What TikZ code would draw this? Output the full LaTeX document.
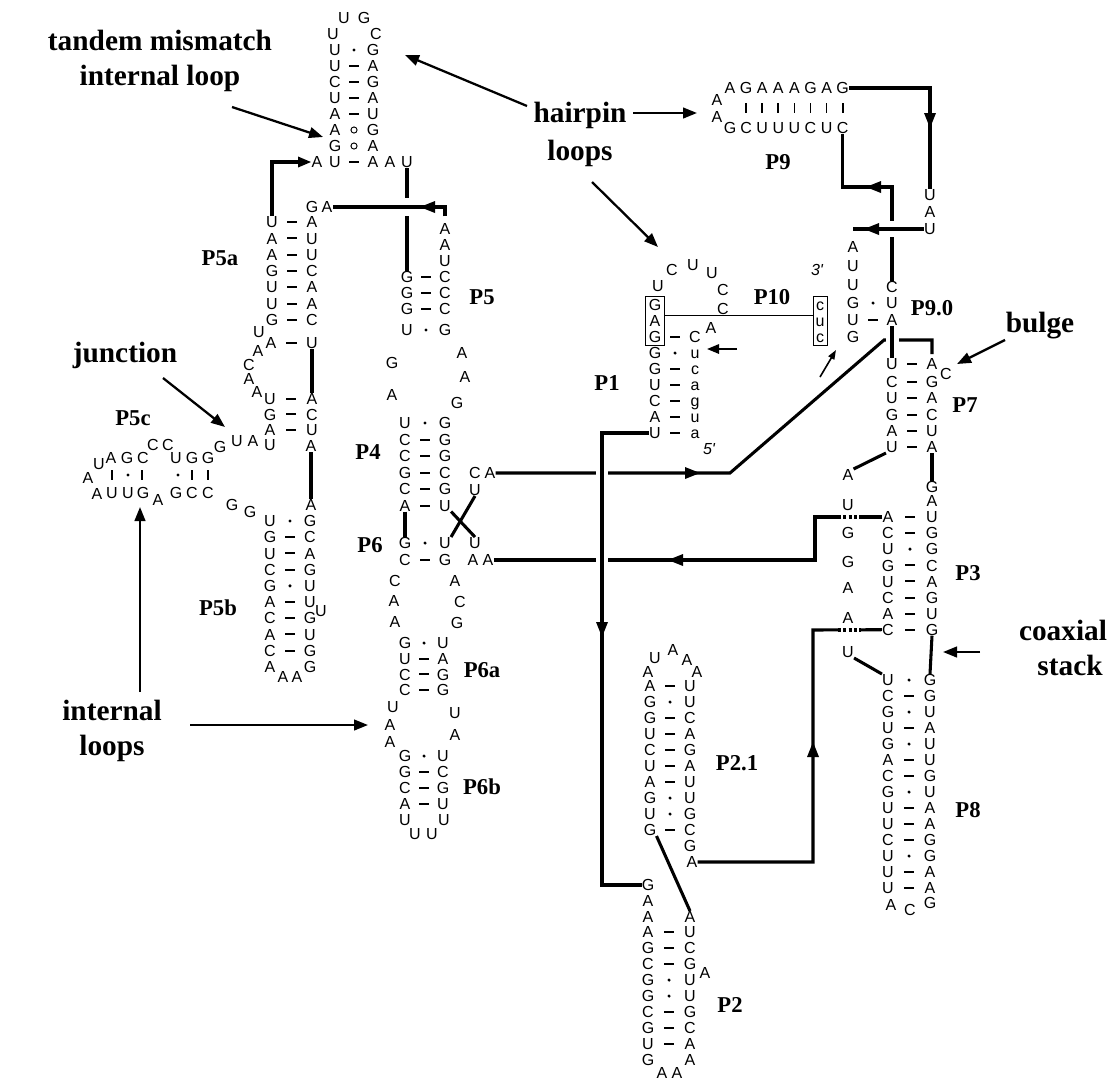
\documentclass[tikz,border=0pt]{standalone}
\usepackage{fontspec}
\setmainfont{Liberation Serif}
\newfontfamily\ntf{Liberation Sans}
\usetikzlibrary{arrows.meta,fit}
\newcommand\ah[3]{\fill[shift={(#1,#2)},rotate=#3] (0,0) -- (-15,-6) -- (-15,6) -- cycle;}
\newcommand\stem[6]{%
  \foreach \l/\m/\r [count=\i] in {#6} {%
    \node[nt] (#1l\i) at (#2,{#4+#5*(\i-1)}) {\l};
    \node[\m] (#1m\i) at ({(#2+#3)/2},{#4+#5*(\i-1)}) {};
    \node[nt] (#1r\i) at (#3,{#4+#5*(\i-1)}) {\r};
  }}
\newcommand\bridge[4]{\draw[white,line width=5pt] (#1,#2) -- (#3,#4);}
\begin{document}
\begin{tikzpicture}[x=0.75pt,y=-0.75pt,
  nt/.style={font=\ntf\fontsize{12}{12}\selectfont,inner sep=0pt,text height=8.6pt,text depth=0pt},
  it/.style={font=\ntf\itshape\fontsize{12}{12}\selectfont,inner sep=0pt},
  bpm/.style={fill=black,inner sep=0pt,minimum width=8pt,minimum height=1.5pt},
  gum/.style={circle,fill=black,inner sep=0pt,minimum size=2.6pt},
  ncm/.style={circle,draw=black,line width=0.7pt,inner sep=0pt,minimum size=4.6pt},
  nom/.style={inner sep=0pt,minimum size=0pt},
  bar/.style={fill=black,inner sep=0pt,minimum width=1.3pt,minimum height=7.5pt},
  lab/.style={font=\bfseries\fontsize{17}{17}\selectfont,inner sep=0pt},
  big/.style={font=\bfseries\fontsize{22}{22}\selectfont,inner sep=0pt,anchor=base},
  conn/.style={line width=2.3pt},
  ann/.style={line width=1.7pt,-{Triangle[length=10.5pt,width=8pt]}},
  dots/.style={line width=2.3pt,dash pattern=on 2.2pt off 1.8pt},
]
\fill[white] (0,0) rectangle (1120,1082);
\useasboundingbox (0,0) rectangle (1120,1082);

% ---------- annotation texts
\node[big] (tTM) at (160,50) {tandem mismatch};
\node[big] (tIL) at (160,85) {internal loop};
\node[big] (tHP) at (580,122) {hairpin};
\node[big] (tLP) at (580,160) {loops};
\node[big] (tJN) at (125,362) {junction};
\node[big] (tIN) at (112,720) {internal};
\node[big] (tIS) at (112,755) {loops};
\node[big] (tBU) at (1040,332) {bulge};
\node[big] (tCO) at (1063,640) {coaxial};
\node[big] (tST) at (1070,675) {stack};

\coordinate (an1a) at (232,107); \coordinate (an1b) at (323,137);
\coordinate (an2a) at (527,106); \coordinate (an2b) at (405,55);
\coordinate (an3a) at (633,113); \coordinate (an3b) at (697,113);
\coordinate (an4a) at (592,182); \coordinate (an4b) at (658,247);
\coordinate (an5a) at (163,378); \coordinate (an5b) at (225,427);
\coordinate (an6a) at (140,692); \coordinate (an6b) at (140,507);
\coordinate (an7a) at (190,725); \coordinate (an7b) at (368,725);
\coordinate (an8a) at (1005,340); \coordinate (an8b) at (957,364);
\coordinate (an9a) at (980,652); \coordinate (an9b) at (943,652);
\foreach \k in {1,...,9} \draw[ann] (an\k a) -- (an\k b);

% ---------- structure labels
\node[lab] (lP5a) at (220,258) {P5a};
\node[lab] (lP5) at (482,297) {P5};
\node[lab] (lP5c) at (133,418) {P5c};
\node[lab] (lP4) at (368,452) {P4};
\node[lab] (lP6) at (370,545) {P6};
\node[lab] (lP5b) at (218,608) {P5b};
\node[lab] (lP6a) at (482,670) {P6a};
\node[lab] (lP6b) at (482,787) {P6b};
\node[lab] (lP9) at (778,162) {P9};
\node[lab] (lP10) at (772,297) {P10};
\node[lab] (lP90) at (932,308) {P9.0};
\node[lab] (lP1) at (607,383) {P1};
\node[lab] (lP7) at (965,405) {P7};
\node[lab] (lP3) at (968,573) {P3};
\node[lab] (lP8) at (968,810) {P8};
\node[lab] (lP21) at (737,763) {P2.1};
\node[lab] (lP2) at (730,1005) {P2};

% ---------- top hairpin
\stem{h}{335}{373}{50}{16}{U/gum/G,U/bpm/A,C/bpm/G,U/bpm/A,A/bpm/U,A/ncm/G,G/ncm/A,U/bpm/A}
\node[nt] (hA0) at (317,162) {A};
\node[nt] (hA9) at (390,162) {A};
\node[nt] (hU9) at (407,162) {U};
\node[nt] (hq1) at (333,34) {U};
\node[nt] (hq2) at (344,18) {U};
\node[nt] (hq3) at (364,18) {G};
\node[nt] (hq4) at (376,34) {C};

% ---------- P5a
\node[nt] (gaG) at (312,207) {G};
\node[nt] (gaA) at (327,207) {A};
\stem{a}{272}{312}{222}{16.3}{U/bpm/A,A/bpm/U,A/bpm/U,G/bpm/C,U/bpm/A,U/bpm/A,G/bpm/C}
\node[nt] (aU8) at (259,332) {U};
\stem{ab}{271}{312}{343}{1}{A/bpm/U}
\node[nt] (aq1) at (258,351) {A};
\node[nt] (aq2) at (249,364.5) {C};
\node[nt] (aq3) at (249,378.5) {A};
\node[nt] (aq4) at (257,392) {A};
\stem{ai}{270}{312}{399}{15.3}{U/bpm/A,G/bpm/C,A/bpm/U}
\node[nt] (aiU) at (270,445) {U};
\node[nt] (aiA) at (311,446) {A};
\node[nt] (jA) at (253,441) {A};
\node[nt] (jU) at (237,441) {U};
\node[nt] (jG) at (220,447) {G};

% ---------- P5c
\node[nt] (cU) at (99,464) {U};
\node[nt] (cA1) at (111,458) {A};
\node[nt] (cG1) at (127,458) {G};
\node[nt] (cC1) at (143,458) {C};
\node[nt] (cC2) at (153,445) {C};
\node[nt] (cC3) at (168,445) {C};
\node[nt] (cU2) at (176,458) {U};
\node[nt] (cG2) at (192,458) {G};
\node[nt] (cG3) at (208,458) {G};
\node[bar] (cm1) at (112,475) {};
\node[gum] (cm2) at (128,475) {};
\node[bar] (cm3) at (142,475) {};
\node[gum] (cm4) at (178,475) {};
\node[bar] (cm5) at (192,475) {};
\node[bar] (cm6) at (208,475) {};
\node[nt] (cA2) at (88,478) {A};
\node[nt] (cA3) at (97,494) {A};
\node[nt] (cb1) at (112,493) {U};
\node[nt] (cb2) at (128,493) {U};
\node[nt] (cb3) at (143,493) {G};
\node[nt] (cb4) at (158,500) {A};
\node[nt] (cb5) at (176,493) {G};
\node[nt] (cb6) at (192,493) {C};
\node[nt] (cb7) at (208,493) {C};
\node[nt] (cb8) at (232,505) {G};
\node[nt] (cb9) at (250,512) {G};

% ---------- P5b
\node[nt] (bA0) at (311,505) {A};
\stem{b}{270}{310}{521}{16.2}{U/gum/G,G/bpm/C,U/bpm/A,C/bpm/G,G/gum/U,A/bpm/U,C/bpm/G,A/bpm/U,C/bpm/G}
\node[nt] (bUx) at (321,611) {U};
\node[nt] (bq1) at (270,667) {A};
\node[nt] (bq2) at (283,677) {A};
\node[nt] (bq3) at (297,677) {A};
\node[nt] (bq4) at (310,667) {G};

% ---------- P5
\node[nt] (p5A1) at (445,229) {A};
\node[nt] (p5A2) at (445,245) {A};
\node[nt] (p5U0) at (445,261) {U};
\stem{p5}{407}{445}{277}{16}{G/bpm/C,G/bpm/C,G/bpm/C}
\stem{p5u}{407}{445}{330}{1}{U/gum/G}
\node[nt] (k5G) at (392,363) {G};
\node[nt] (k5A) at (392,395) {A};
\node[nt] (k5a1) at (462,353) {A};
\node[nt] (k5a2) at (465,377) {A};
\node[nt] (k5g) at (457,403) {G};

% ---------- P4 / P6
\stem{p4}{405}{445}{423}{16.5}{U/gum/G,C/bpm/G,C/bpm/G,G/bpm/C,C/bpm/G,A/bpm/U}
\node[nt] (caC) at (475,473) {C};
\node[nt] (caA) at (490,473) {A};
\node[nt] (xU1) at (475,490) {U};
\stem{p6}{405}{445}{543}{17}{G/gum/U,C/bpm/G}
\node[nt] (xU2) at (475,543) {U};
\node[nt] (aa1) at (473,560) {A};
\node[nt] (aa2) at (488,560) {A};
\node[nt] (k6C) at (395,581) {C};
\node[nt] (k6A) at (394,601) {A};
\node[nt] (k6B) at (395,622) {A};
\node[nt] (k6a) at (455,581) {A};
\node[nt] (k6c) at (460,602) {C};
\node[nt] (k6g) at (457,623) {G};
\stem{p6a}{405}{443}{643}{15.7}{G/gum/U,U/bpm/A,C/bpm/G,C/bpm/G}
\node[nt] (k7U) at (393,707) {U};
\node[nt] (k7A) at (390,725) {A};
\node[nt] (k7B) at (390,742) {A};
\node[nt] (k7u) at (455,713) {U};
\node[nt] (k7a) at (455,735) {A};
\stem{p6b}{405}{443}{756}{16}{G/gum/U,G/bpm/C,C/bpm/G,A/bpm/U}
\node[nt] (k8a) at (405,820) {U};
\node[nt] (k8b) at (415,834) {U};
\node[nt] (k8c) at (432,834) {U};
\node[nt] (k8d) at (444,820) {U};

% ---------- P9 hairpin
\foreach \c [count=\i] in {A,G,A,A,A,G,A,G} \node[nt] (p9t\i) at ({730+16.1*(\i-1)},88) {\c};
\foreach \c [count=\i] in {G,C,U,U,U,C,U,C} \node[nt] (p9b\i) at ({730+16.1*(\i-1)},128) {\c};
\foreach \i in {2,...,8} \node[bar] (p9m\i) at ({730+16.1*(\i-1)},108) {};
\node[nt] (p9q1) at (717,100) {A};
\node[nt] (p9q2) at (717,117) {A};
\node[nt] (uau1) at (930,195) {U};
\node[nt] (uau2) at (930,212) {A};
\node[nt] (uau3) at (930,229) {U};

% ---------- P9.0
\node[nt] (qA) at (853,247) {A};
\node[nt] (qU1) at (853,266) {U};
\node[nt] (qU2) at (853,285) {U};
\node[nt] (qG1) at (853,303) {G};
\node[nt] (qU3) at (853,320) {U};
\node[nt] (qG2) at (853,337) {G};
\node[nt] (qC) at (892,287) {C};
\node[nt] (qU4) at (892,303) {U};
\node[nt] (qA2) at (892,320) {A};
\node[gum] (qm1) at (873,303) {};
\node[bpm] (qm2) at (873,320) {};

% ---------- P7 / P3 / P8
\stem{p7a}{892}{932}{364}{1}{U/bpm/A}
\node[nt] (p7C) at (946,374) {C};
\stem{p7}{892}{932}{382}{16.25}{C/bpm/G,U/bpm/A,G/bpm/C,A/bpm/U,U/bpm/A}
\node[nt] (j87A) at (848,475) {A};
\node[nt] (j7G) at (932,487) {G};
\node[nt] (j7A) at (932,501) {A};
\stem{p3}{888}{932}{517}{16.1}{A/bpm/U,C/bpm/G,U/gum/G,G/bpm/C,U/bpm/A,C/bpm/G,A/bpm/U,C/bpm/G}
\node[nt] (oU) at (848,505) {U};
\node[nt] (oG1) at (848,533) {G};
\node[nt] (oG2) at (848,562) {G};
\node[nt] (oA1) at (848,588) {A};
\node[nt] (oA2) at (848,618) {A};
\node[nt] (oU2) at (848,652) {U};
\stem{p8}{888}{930}{680}{16}{U/gum/G,C/bpm/G,G/gum/U,U/bpm/A,G/gum/U,A/bpm/U,C/bpm/G,G/gum/U,U/bpm/A,U/bpm/A,C/bpm/G,U/gum/G,U/bpm/A,U/bpm/A}
\node[nt] (p8q1) at (891,905) {A};
\node[nt] (p8q2) at (910,910) {C};
\node[nt] (p8q3) at (930,903) {G};

% ---------- P1 / P10
\node[nt] (p1G0) at (655,305) {G};
\node[nt] (p1A0) at (655,321) {A};
\stem{p1}{655}{695}{337}{16}{G/bpm/C,G/gum/u,G/bpm/c,U/bpm/a,C/bpm/g,A/bpm/u,U/bpm/a}
\node[nt] (p1q1) at (658,286) {U};
\node[nt] (p1q2) at (672,270) {C};
\node[nt] (p1q3) at (693,265) {U};
\node[nt] (p1q4) at (712,273) {U};
\node[nt] (p1q5) at (723,290) {C};
\node[nt] (p1q6) at (723,309) {C};
\node[nt] (p1q7) at (711,328) {A};
\node[it] (p1five) at (709,449) {5'};
\node[draw,line width=0.6pt,inner sep=2pt,fit=(p1G0)(p1l1)] (box1) {};
\node[nt] (pc1) at (820,305) {c};
\node[nt] (pc2) at (820,321) {u};
\node[nt] (pc3) at (820,337) {c};
\node[draw,line width=0.6pt,inner sep=2pt,fit=(pc1)(pc3)] (box2) {};
\draw[line width=0.6pt] ([yshift=4pt]box1.east) -- ([yshift=4pt]box2.west);
\node[it] (three) at (817,270) {3'};
\coordinate (sa0) at (820,377); \coordinate (sa1) at (836,350);
\draw[line width=1.2pt,-{Triangle[length=7pt,width=5pt]}] (sa0) -- (sa1);
\coordinate (sp0) at (737,349); \coordinate (sp1) at (707,349);
\draw[line width=1.5pt,-{Triangle[length=9pt,width=7pt]}] (sp0) -- (sp1);

% ---------- P2.1
\stem{q21}{650}{690}{686}{16}{A/bpm/U,G/gum/U,G/bpm/C,U/bpm/A,C/bpm/G,U/bpm/A,A/bpm/U,G/gum/U,U/gum/G,G/bpm/C}
\node[nt] (q21G) at (690,846) {G};
\node[nt] (q21A) at (692,862) {A};
\node[nt] (q21q1) at (655,658) {U};
\node[nt] (q21q2) at (673,650) {A};
\node[nt] (q21q3) at (687,660) {A};
\node[nt] (q21q4) at (648,672) {A};
\node[nt] (q21q5) at (697,672) {A};

% ---------- P2
\node[nt] (p2G0) at (648,885) {G};
\node[nt] (p2A1) at (648,901) {A};
\node[nt] (p2A2) at (648,917) {A};
\node[nt] (p2Ar) at (690,917) {A};
\stem{p2}{648}{690}{932}{16}{A/bpm/U,G/bpm/C,C/bpm/G,G/gum/U,G/gum/U,C/bpm/G,G/bpm/C,U/bpm/A}
\node[nt] (p2G9) at (648,1060) {G};
\node[nt] (p2A9) at (690,1060) {A};
\node[nt] (p2q1) at (662,1073) {A};
\node[nt] (p2q2) at (677,1073) {A};
\node[nt] (p2bA) at (705,973) {A};

% ========== connectors
\draw[conn,-{Triangle[length=10pt,width=7.5pt]}] (al1.north) |- (hA0.west);
\draw[conn] (hU9.south) -- (p5l1.north);
\bridge{407}{198}{407}{216}
\draw[conn,shorten <=5pt] (p5A1.north) |- (gaA.east);
\ah{420}{207}{180}
\draw[conn] (abr1.south) -- (air1.north);
\draw[conn] (aiA.south) -- (bA0.north);
\draw[conn] (p4l6.south) -- (p6l1.north);
\draw[conn] (xU1.south) -- (p6r1.north east);
\draw[conn] (p4r6.south east) -- (xU2.north);

\coordinate (k1) at (730,473); \coordinate (k2) at (884,340); \coordinate (k3) at (932,340);
\draw[conn,shorten >=3pt] (caA.east) -- (k1) -- (k2) -- (k3) -- (p7ar1.north);
\ah{700}{473}{0}
\coordinate (k8) at (815,517); \coordinate (k9) at (815,560);
\draw[conn] (p3l1.west) -- (k8) -- (k9) -- (aa2.east);
\ah{668}{560}{180}
\bridge{838}{517}{861}{517}
\draw[dots] (838,517) -- (861,517);
\coordinate (k6) at (813,862); \coordinate (k7) at (813,630);
\draw[conn] (q21A.east) -- (k6) -- (k7) -- (p3l8.west);
\ah{813}{742}{90}
\bridge{838}{630}{861}{630}
\draw[dots] (838,630) -- (861,630);
\draw[white,line width=6pt] (596,473) -- (608,473);
\draw[white,line width=6pt] (596,560) -- (608,560);
\coordinate (k4) at (602,433); \coordinate (k5) at (602,885);
\draw[conn] (p1l7.west) -- (k4) -- (k5) -- (p2G0.west);
\ah{602}{637}{-90}
\draw[conn] (q21l10.south east) -- (p2Ar.north);

\draw[conn] (p9t8.east) -| (uau1.north);
\ah{930}{128}{-90}
\draw[conn] (p9b8.south) -- ++(0,53) -| (qC.north);
\ah{866}{187}{180}
\bridge{892}{221}{892}{237}
\draw[conn] (uau3.west) -- (qA |- uau3.west);
\ah{864}{229}{180}
\draw[white,line width=6pt] (886,340) -- (899,340);
\draw[conn] (qA2.south) -- (p7al1.north);
\draw[conn] (j87A.north east) -- (p7l5.south west);
\draw[conn] (p7r5.south) -- (j7G.north);
\draw[conn] (p3r8.south) -- (p8r1.north);
\draw[conn] (oU2.south east) -- (p8l1.north west);
\end{tikzpicture}
\end{document}
